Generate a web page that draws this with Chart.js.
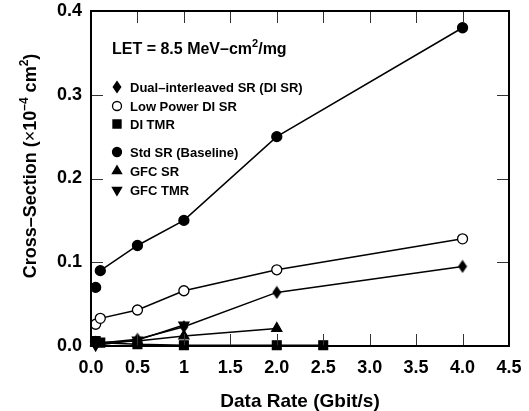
<!DOCTYPE html>
<html>
<head>
<meta charset="utf-8">
<script src="https://cdn.jsdelivr.net/npm/chart.js@4.4.1/dist/chart.umd.min.js"></script>
<style>
  body { margin: 0; background: #fff; }
</style>
</head>
<body>
<canvas id="myChart" width="529" height="411"></canvas>
<script>
// cross-section (x1e-4 cm2) against data rate (Gbit/s), one pair of arrays per design
var diSrX = [0.05, 0.5, 1, 2, 4]
var diSrY = [0.003, 0.008, 0.023, 0.064, 0.095]
var lowPwrX = [0.05, 0.1, 0.5, 1, 2, 4]
var lowPwrY = [0.026, 0.033, 0.043, 0.066, 0.091, 0.128]
var diTmrX = [0.05, 0.1, 0.5, 1, 2, 2.5]
var diTmrY = [0.006, 0.004, 0.002, 0.001, 0.001, 0.001]
var stdX = [0.05, 0.1, 0.5, 1, 2, 4]
var stdY = [0.07, 0.09, 0.12, 0.15, 0.25, 0.38]
var gfcSrX = [0.05, 0.5, 1, 2]
var gfcSrY = [0.004, 0.006, 0.012, 0.021]
var gfcTmrX = [0.05, 0.5, 1]
var gfcTmrY = [0.001, 0.007, 0.025]

var seriesNames = ['Dual\u2013interleaved SR (DI SR)', 'Low Power DI SR', 'DI TMR', 'Std SR (Baseline)', 'GFC SR', 'GFC TMR']
var xTickLabels = ['0.0', '0.5', '1', '1.5', '2.0', '2.5', '3.0', '3.5', '4.0', '4.5']
var yTickLabels = ['0.0', '0.1', '0.2', '0.3', '0.4']

var FONT = "'Liberation Sans', Arial, sans-serif"

function pairs(xs, ys) {
  return xs.map(function(x, i) { return { x: x, y: ys[i] } })
}

// narrow diamond marker
function makeDiamond() {
  var c = document.createElement('canvas')
  c.width = 10
  c.height = 14
  var g = c.getContext('2d')
  g.fillStyle = '#000'
  g.beginPath()
  g.moveTo(5, 0.5)
  g.lineTo(9.5, 7)
  g.lineTo(5, 13.5)
  g.lineTo(0.5, 7)
  g.closePath()
  g.fill()
  return c
}
var diamond = makeDiamond()

var markers = [
  { pointStyle: diamond, radius: 5, rotation: 0, fill: '#000' },
  { pointStyle: 'circle', radius: 5, rotation: 0, fill: '#fff' },
  { pointStyle: 'rect', radius: 6.2, rotation: 0, fill: '#000' },
  { pointStyle: 'circle', radius: 5, rotation: 0, fill: '#000' },
  { pointStyle: 'triangle', radius: 5.8, rotation: 0, fill: '#000' },
  { pointStyle: 'triangle', radius: 5.8, rotation: 180, fill: '#000' }
]

function series(i, xs, ys, extra) {
  var m = markers[i]
  var ds = {
    label: seriesNames[i],
    data: pairs(xs, ys),
    borderColor: '#000',
    borderWidth: 1.5,
    backgroundColor: m.fill,
    pointStyle: m.pointStyle,
    pointRadius: m.radius,
    pointRotation: m.rotation,
    pointBackgroundColor: m.fill,
    pointBorderColor: '#000',
    pointBorderWidth: 1.3,
    tension: 0,
    clip: false
  }
  return Object.assign(ds, extra || {})
}

// frame, inward ticks on all four sides, axis titles and the in-plot legend
var decorations = {
  id: 'decorations',
  afterDatasetsDraw: function(chart) {
    var ctx = chart.ctx
    var a = chart.chartArea
    var xs = chart.scales.x
    var ys = chart.scales.y
    var len = 12

    ctx.save()
    ctx.strokeStyle = '#333'
    ctx.lineWidth = 1
    ctx.beginPath()
    xs.ticks.forEach(function(t) {
      var px = Math.round(xs.getPixelForValue(t.value)) + 0.5
      ctx.moveTo(px, a.bottom); ctx.lineTo(px, a.bottom - len)
      ctx.moveTo(px, a.top); ctx.lineTo(px, a.top + len)
    })
    ys.ticks.forEach(function(t) {
      var py = Math.round(ys.getPixelForValue(t.value)) + 0.5
      ctx.moveTo(a.left, py); ctx.lineTo(a.left + len, py)
      ctx.moveTo(a.right, py); ctx.lineTo(a.right - len, py)
    })
    ctx.stroke()

    ctx.strokeStyle = '#000'
    ctx.lineWidth = 2
    ctx.strokeRect(a.left, a.top, a.right - a.left, a.bottom - a.top)

    ctx.fillStyle = '#000'
    ctx.textBaseline = 'alphabetic'

    // x title
    ctx.font = 'bold 19px ' + FONT
    ctx.textAlign = 'center'
    ctx.fillText('Data Rate (Gbit/s)', (a.left + a.right) / 2, 407)

    // y title with superscripts
    var parts = [
      ['Cross\u2013Section (', 'bold 18px', 0],
      ['\u00d7', '18px', 0],
      ['10', 'bold 18px', 0],
      ['\u20134', 'bold 12px', -8],
      [' cm', 'bold 18px', 0],
      ['2', 'bold 12px', -8],
      [')', 'bold 18px', 0]
    ]
    ctx.textAlign = 'left'
    var total = 0
    parts.forEach(function(p) { ctx.font = p[1] + ' ' + FONT; total += ctx.measureText(p[0]).width })
    ctx.translate(36, 166)
    ctx.rotate(-Math.PI / 2)
    var cx = -total / 2
    parts.forEach(function(p) {
      ctx.font = p[1] + ' ' + FONT
      ctx.fillText(p[0], cx, p[2])
      cx += ctx.measureText(p[0]).width
    })
    ctx.setTransform(1, 0, 0, 1, 0, 0)

    // LET note
    var lx = a.left + 21
    var ly = 54
    ctx.font = 'bold 16px ' + FONT
    var t1 = 'LET = 8.5 MeV\u2013cm'
    ctx.fillText(t1, lx, ly)
    lx += ctx.measureText(t1).width
    ctx.font = 'bold 11px ' + FONT
    ctx.fillText('2', lx, ly - 7)
    lx += ctx.measureText('2').width
    ctx.font = 'bold 16px ' + FONT
    ctx.fillText('/mg', lx, ly)

    // legend rows
    var rows = [87, 106, 124, 152, 171, 190]
    ctx.font = 'bold 13px ' + FONT
    ctx.textBaseline = 'middle'
    rows.forEach(function(ry, i) {
      var m = markers[i]
      ctx.fillStyle = m.fill
      ctx.strokeStyle = '#000'
      ctx.lineWidth = 1.3
      Chart.helpers.drawPoint(ctx, { pointStyle: m.pointStyle, radius: m.radius - 0.5, rotation: m.rotation, borderWidth: 1.3 }, a.left + 26, ry)
      ctx.fillStyle = '#000'
      ctx.fillText(seriesNames[i], a.left + 39, ry + 1)
    })
    ctx.restore()
  }
}

var ctx = document.getElementById('myChart').getContext('2d')
var chart = new Chart(ctx, {
  type: 'line',
  data: {
    datasets: [
      series(0, diSrX, diSrY),
      series(1, lowPwrX, lowPwrY),
      series(2, diTmrX, diTmrY),
      // the lowest-rate baseline point stands alone
      series(3, stdX, stdY, {
        segment: { borderColor: function(c) { return c.p0DataIndex === 0 ? 'rgba(0,0,0,0)' : '#000' } }
      }),
      series(4, gfcSrX, gfcSrY),
      series(5, gfcTmrX, gfcTmrY)
    ]
  },
  options: {
    responsive: false,
    devicePixelRatio: 1,
    animation: false,
    layout: { padding: { top: 11, right: 20, left: 0, bottom: 0 } },
    plugins: {
      legend: { display: false },
      tooltip: { enabled: false }
    },
    scales: {
      x: {
        type: 'linear',
        min: 0,
        max: 4.5,
        grid: { display: false, drawTicks: false },
        border: { display: false },
        ticks: {
          stepSize: 0.5,
          color: '#000',
          padding: 11,
          maxRotation: 0,
          font: { family: FONT, size: 18, weight: 'bold' },
          callback: function(v, i) { return xTickLabels[i] }
        },
        afterFit: function(scale) {
          scale.height = 65
          scale.paddingLeft = 0
          scale.paddingRight = 0
        }
      },
      y: {
        type: 'linear',
        min: 0,
        max: 0.4,
        grid: { display: false, drawTicks: false },
        border: { display: false },
        ticks: {
          stepSize: 0.1,
          color: '#000',
          padding: 9,
          font: { family: FONT, size: 18, weight: 'bold' },
          callback: function(v, i) { return yTickLabels[i] }
        },
        afterFit: function(scale) {
          scale.width = 91
          scale.paddingTop = 0
          scale.paddingBottom = 0
        }
      }
    }
  },
  plugins: [decorations]
})
</script>
</body>
</html>
